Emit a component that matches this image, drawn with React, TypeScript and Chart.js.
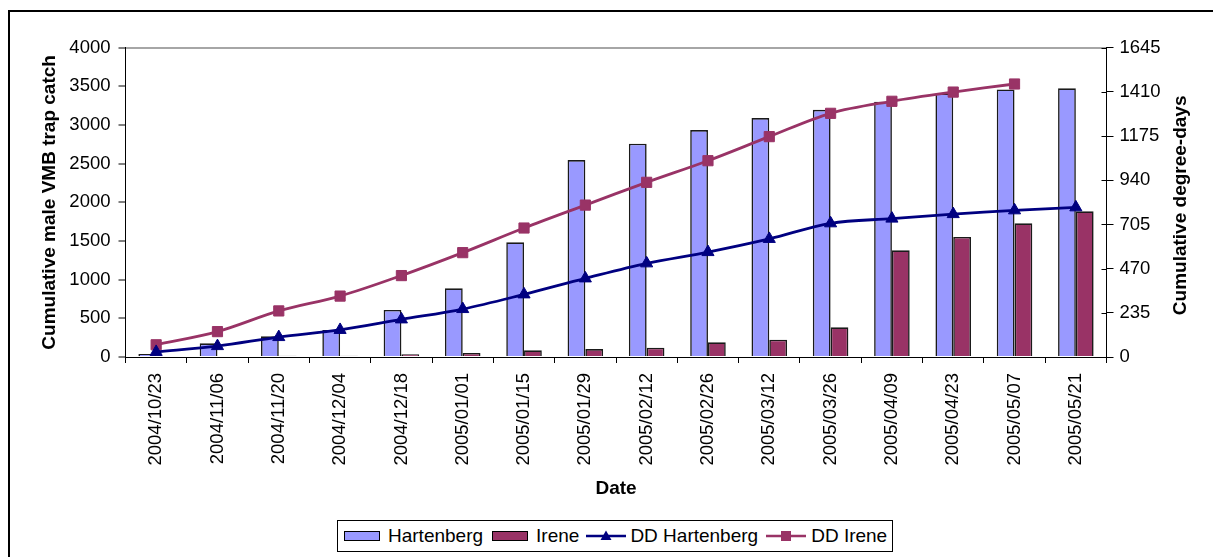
import React, { useEffect, useRef } from "react";
import { Chart, registerables } from "chart.js";

Chart.register(...registerables);

const categories = [
  "2004/10/23", "2004/11/06", "2004/11/20", "2004/12/04", "2004/12/18",
  "2005/01/01", "2005/01/15", "2005/01/29", "2005/02/12", "2005/02/26",
  "2005/03/12", "2005/03/26", "2005/04/09", "2005/04/23", "2005/05/07", "2005/05/21",
];
const hartenberg = [39, 177, 268, 349, 608, 888, 1483, 2547, 2758, 2935, 3090, 3196, 3301, 3409, 3461, 3474];
const irene = [0, 0, 15, 15, 35, 52, 86, 103, 121, 190, 224, 384, 1379, 1552, 1729, 1884];
const ddHartenberg = [27, 58, 106, 144, 200, 255, 333, 418, 498, 558, 628, 711, 736, 760, 780, 796];
const ddIrene: (number | null)[] = [65, 135, 245, 324, 433, 555, 686, 808, 929, 1044, 1172, 1296, 1360, 1409, 1452, null];

const leftMax = 4000;
const leftStep = 500;
const rightMax = 1645;
const rightStep = 235;

const leftTitle = "Cumulative male VMB trap catch";
const rightTitle = "Cumulative degree-days";
const xTitle = "Date";

const BAR_H = "#9999FF";
const BAR_I = "#993366";
const NAVY = "#000080";
const PLUM = "#993366";
const FONT = "'Liberation Sans', Arial, Helvetica, sans-serif";

const extrasPlugin = {
  id: "extras",
  afterDraw(chart: any) {
    const ctx = chart.ctx as CanvasRenderingContext2D;
    const y1 = chart.scales.y1;
    const area = chart.chartArea;
    ctx.save();
    ctx.strokeStyle = "#000";
    ctx.lineWidth = 1;
    y1.ticks.forEach((_t: any, i: number) => {
      const py = Math.round(y1.getPixelForTick(i)) + 0.5;
      ctx.beginPath();
      ctx.moveTo(y1.left - 5, py);
      ctx.lineTo(y1.left, py);
      ctx.stroke();
    });
    ctx.fillStyle = "#000";
    ctx.font = `bold 19px ${FONT}`;
    ctx.textAlign = "center";
    ctx.textBaseline = "middle";
    ctx.translate(y1.right - 32.5, (area.top + area.bottom) / 2 + 3);
    ctx.rotate(-Math.PI / 2);
    ctx.fillText(rightTitle, 0, 0);
    ctx.restore();
  },
};

function BoxSwatch({ color }: { color: string }) {
  return (
    <span
      style={{
        display: "inline-block",
        width: 36,
        height: 10,
        boxSizing: "border-box",
        background: color,
        border: "1.5px solid #000",
      }}
    />
  );
}

function LineSwatch({ color, marker }: { color: string; marker: "triangle" | "square" }) {
  return (
    <svg width={40} height={14} style={{ display: "block" }}>
      <line x1={0} y1={7} x2={40} y2={7} stroke={color} strokeWidth={2.5} />
      {marker === "triangle" ? (
        <polygon points="20,1.5 25.5,11 14.5,11" fill={color} />
      ) : (
        <rect x={15} y={2} width={10} height={10} fill={color} />
      )}
    </svg>
  );
}

const plainNumber = (v: any) => String(v);

export default function App() {
  const canvasRef = useRef<HTMLCanvasElement | null>(null);

  useEffect(() => {
    const canvas = canvasRef.current;
    if (!canvas) return;
    const tickFont = { family: FONT, size: 18.5 };
    const titleFont = { family: FONT, size: 19, weight: "bold" as const };
    const chart = new Chart(canvas, {
      type: "bar",
      data: {
        labels: categories,
        datasets: [
          {
            type: "bar",
            label: "Hartenberg",
            data: hartenberg,
            yAxisID: "y",
            backgroundColor: BAR_H,
            borderColor: "#1a1a1a",
            borderWidth: 1.6,
            categoryPercentage: 0.58,
            barPercentage: 1,
            order: 2,
          },
          {
            type: "bar",
            label: "Irene",
            data: irene,
            yAxisID: "y",
            backgroundColor: BAR_I,
            borderColor: "#1a1a1a",
            borderWidth: 1.6,
            categoryPercentage: 0.58,
            barPercentage: 1,
            order: 2,
          },
          {
            type: "line",
            label: "DD Hartenberg",
            data: ddHartenberg,
            yAxisID: "y1",
            borderColor: NAVY,
            backgroundColor: NAVY,
            borderWidth: 2.8,
            pointStyle: "triangle",
            pointRadius: 7,
            pointBorderWidth: 1,
            pointBackgroundColor: NAVY,
            pointBorderColor: NAVY,
            tension: 0.33,
            fill: false,
            order: 0,
          },
          {
            type: "line",
            label: "DD Irene",
            data: ddIrene,
            yAxisID: "y1",
            borderColor: PLUM,
            backgroundColor: PLUM,
            borderWidth: 2.8,
            pointStyle: "rect",
            pointRadius: 7.2,
            pointBorderWidth: 1,
            pointBackgroundColor: PLUM,
            pointBorderColor: PLUM,
            tension: 0.33,
            fill: false,
            order: 0,
          },
        ] as any,
      },
      options: {
        animation: false,
        responsive: false,
        maintainAspectRatio: false,
        layout: { padding: { top: 47.7, bottom: 57, left: 0, right: 0 } },
        plugins: {
          legend: { display: false },
          tooltip: { enabled: false },
        },
        scales: {
          x: {
            offset: true,
            grid: {
              display: true,
              drawOnChartArea: false,
              offset: true,
              tickLength: 6,
              tickColor: "#000",
              tickWidth: 1,
            },
            border: { color: "#000", width: 1 },
            ticks: {
              autoSkip: false,
              minRotation: 90,
              maxRotation: 90,
              padding: 10,
              color: "#000",
              font: tickFont,
            },
            title: {
              display: true,
              text: xTitle,
              color: "#000",
              font: titleFont,
              padding: { top: 0, bottom: 0 },
            },
            afterFit: (s: any) => {
              s.height = 143;
            },
          },
          y: {
            position: "left",
            min: 0,
            max: leftMax,
            ticks: { stepSize: leftStep, padding: 8, color: "#000", font: tickFont, callback: plainNumber },
            grid: {
              color: (c: any) => (c.tick && c.tick.value === leftMax ? "#a6a6a6" : "rgba(0,0,0,0)"),
              lineWidth: 2,
              tickColor: "#000",
              tickWidth: 1,
              tickLength: 7,
            },
            border: { color: "#000", width: 1 },
            title: {
              display: true,
              text: leftTitle,
              color: "#000",
              font: titleFont,
              padding: { top: 38, bottom: 0 },
            },
            afterFit: (s: any) => {
              s.width = 125.5;
            },
          },
          y1: {
            position: "right",
            min: 0,
            max: rightMax,
            ticks: { stepSize: rightStep, padding: 6, color: "#000", font: tickFont, callback: plainNumber },
            grid: {
              drawOnChartArea: false,
              tickColor: "#000",
              tickWidth: 1,
              tickLength: 7,
            },
            border: { color: "#000", width: 1 },
            afterFit: (s: any) => {
              s.width = 106.5;
            },
          },
        },
      } as any,
      plugins: [extrasPlugin],
    });
    return () => chart.destroy();
  }, []);

  const textStyle: React.CSSProperties = { fontFamily: FONT, fontSize: 19, color: "#000", lineHeight: "22px" };

  return (
    <div
      style={{
        position: "fixed",
        left: 0,
        top: 0,
        width: 1213,
        height: 557,
        overflow: "hidden",
        background: "#fff",
      }}
    >
      <div
        style={{
          position: "absolute",
          left: 8,
          top: 10,
          width: 1400,
          height: 800,
          borderLeft: "2px solid #000",
          borderTop: "2px solid #000",
        }}
      />
      <canvas ref={canvasRef} width={1213} height={557} style={{ position: "absolute", left: 0, top: 0, width: 1213, height: 557 }} />
      <div
        style={{
          position: "absolute",
          left: 337,
          top: 520,
          height: 32,
          boxSizing: "border-box",
          border: "1px solid #000",
          background: "#fff",
          display: "flex",
          alignItems: "center",
          paddingLeft: 6,
          paddingRight: 5,
          whiteSpace: "nowrap",
        }}
      >
        <BoxSwatch color={BAR_H} />
        <span style={{ ...textStyle, marginLeft: 8 }}>Hartenberg</span>
        <span style={{ marginLeft: 9, display: "inline-flex" }}>
          <BoxSwatch color={BAR_I} />
        </span>
        <span style={{ ...textStyle, marginLeft: 8 }}>Irene</span>
        <span style={{ marginLeft: 7 }}>
          <LineSwatch color={NAVY} marker="triangle" />
        </span>
        <span style={{ ...textStyle, marginLeft: 4 }}>DD Hartenberg</span>
        <span style={{ marginLeft: 8 }}>
          <LineSwatch color={PLUM} marker="square" />
        </span>
        <span style={{ ...textStyle, marginLeft: 5 }}>DD Irene</span>
      </div>
    </div>
  );
}
